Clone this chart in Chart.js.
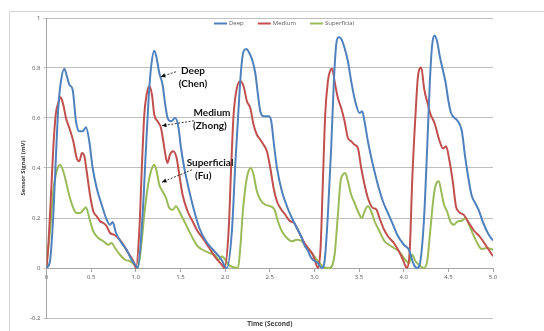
<!DOCTYPE html>
<html>
<head>
<meta charset="utf-8">
<script src="https://cdn.jsdelivr.net/npm/chart.js@4.4.0/dist/chart.umd.min.js"></script>
<style>
  html, body { margin: 0; padding: 0; background: #fff; }
  #wrap { width: 544px; height: 331px; }
</style>
</head>
<body>
<div id="wrap"><canvas id="chart" width="544" height="331"></canvas></div>
<script>
// values (time in seconds, signal in mV)
const deepT = [0, 0.039, 0.076, 0.106, 0.132, 0.159, 0.2, 0.226, 0.256, 0.293, 0.33, 0.368, 0.405, 0.442, 0.479, 0.517, 0.562, 0.618, 0.674, 0.711, 0.741, 0.778, 0.841, 0.897, 0.953, 1.0, 1.02,
  1.076, 1.114, 1.144, 1.17, 1.207, 1.233, 1.263, 1.3, 1.33, 1.356, 1.394, 1.442, 1.479, 1.506, 1.543, 1.599, 1.655, 1.711, 1.786, 1.86, 1.965, 2.0, 2.02,
  2.076, 2.114, 2.151, 2.181, 2.207, 2.237, 2.271, 2.308, 2.338, 2.368, 2.394, 2.431, 2.487, 2.517, 2.543, 2.581, 2.636, 2.692, 2.748, 2.804, 2.86, 2.89, 2.927, 2.964, 3.039, 3.084,
  3.114, 3.151, 3.188, 3.218, 3.244, 3.27, 3.3, 3.338, 3.375, 3.412, 3.457, 3.506, 3.535, 3.561, 3.599, 3.655, 3.711, 3.767, 3.823, 3.89, 3.927, 4.002, 4.058, 4.114, 4.151,
  4.188, 4.226, 4.263, 4.293, 4.319, 4.345, 4.375, 4.405, 4.44, 4.47, 4.5, 4.53, 4.6, 4.65, 4.686, 4.724, 4.761, 4.8, 4.836, 4.891, 4.95, 5.0];
const deepV = [0, 0.027, 0.21, 0.45, 0.64, 0.74, 0.797, 0.77, 0.733, 0.713, 0.587, 0.547, 0.547, 0.563, 0.507, 0.4, 0.32, 0.253, 0.193, 0.173, 0.184, 0.14, 0.1, 0.073, 0.033, 0.01, 0,
  0.213, 0.48, 0.68, 0.8, 0.869, 0.84, 0.78, 0.733, 0.653, 0.6, 0.587, 0.6, 0.56, 0.48, 0.4, 0.307, 0.227, 0.16, 0.107, 0.075, 0.03, 0.005, 0,
  0.147, 0.413, 0.64, 0.8, 0.867, 0.876, 0.86, 0.827, 0.78, 0.693, 0.627, 0.607, 0.607, 0.587, 0.507, 0.4, 0.307, 0.247, 0.2, 0.16, 0.12, 0.09, 0.07, 0.04, 0.02, 0,
  0.027, 0.213, 0.48, 0.747, 0.893, 0.923, 0.917, 0.88, 0.827, 0.747, 0.667, 0.62, 0.627, 0.587, 0.507, 0.413, 0.333, 0.267, 0.22, 0.165, 0.133, 0.093, 0.073, 0.013, 0,
  0.03, 0.187, 0.48, 0.747, 0.893, 0.93, 0.905, 0.845, 0.79, 0.74, 0.67, 0.62, 0.59, 0.55, 0.45, 0.36, 0.29, 0.26, 0.235, 0.18, 0.135, 0.11];

const mediumT = [0, 0.021, 0.047, 0.076, 0.103, 0.132, 0.159, 0.188, 0.218, 0.256, 0.3, 0.338, 0.368, 0.397, 0.424, 0.45, 0.487, 0.524, 0.562, 0.599, 0.636, 0.674, 0.711, 0.756, 0.804, 0.86, 0.916, 0.972, 1.002,
  1.039, 1.069, 1.095, 1.121, 1.151, 1.181, 1.207, 1.244, 1.282, 1.308, 1.338, 1.356, 1.382, 1.42, 1.457, 1.487, 1.524, 1.58, 1.636, 1.692, 1.748, 1.823, 1.897, 1.964, 1.994,
  2.039, 2.069, 2.095, 2.132, 2.17, 2.207, 2.244, 2.282, 2.319, 2.356, 2.394, 2.431, 2.468, 2.506, 2.543, 2.58, 2.618, 2.674, 2.729, 2.767, 2.804, 2.841, 2.897, 2.94, 2.983, 3.021, 3.039,
  3.069, 3.095, 3.121, 3.151, 3.177, 3.2, 3.226, 3.263, 3.3, 3.338, 3.375, 3.412, 3.45, 3.487, 3.524, 3.562, 3.599, 3.655, 3.692, 3.729, 3.778, 3.823, 3.89, 3.946, 3.983, 4.021, 4.039,
  4.069, 4.095, 4.132, 4.162, 4.196, 4.23, 4.27, 4.3, 4.345, 4.4, 4.442, 4.475, 4.512, 4.55, 4.59, 4.67, 4.73, 4.786, 4.855, 4.93, 5.0];
const mediumV = [0, 0.093, 0.267, 0.48, 0.613, 0.66, 0.683, 0.653, 0.6, 0.56, 0.507, 0.44, 0.427, 0.46, 0.447, 0.387, 0.293, 0.227, 0.207, 0.187, 0.18, 0.167, 0.14, 0.133, 0.12, 0.093, 0.06, 0.027, 0,
  0.147, 0.413, 0.613, 0.693, 0.727, 0.693, 0.613, 0.587, 0.56, 0.507, 0.44, 0.42, 0.453, 0.467, 0.44, 0.373, 0.293, 0.227, 0.187, 0.147, 0.12, 0.08, 0.04, 0.013, 0,
  0.147, 0.413, 0.613, 0.72, 0.747, 0.727, 0.667, 0.64, 0.573, 0.533, 0.513, 0.493, 0.467, 0.4, 0.32, 0.267, 0.24, 0.213, 0.187, 0.183, 0.16, 0.133, 0.095, 0.075, 0.053, 0.013, 0,
  0.08, 0.347, 0.613, 0.747, 0.79, 0.797, 0.747, 0.68, 0.64, 0.587, 0.52, 0.507, 0.493, 0.48, 0.4, 0.333, 0.28, 0.24, 0.235, 0.2, 0.155, 0.127, 0.1, 0.067, 0.04, 0.007, 0,
  0.08, 0.347, 0.613, 0.773, 0.802, 0.715, 0.655, 0.615, 0.58, 0.51, 0.478, 0.487, 0.43, 0.345, 0.24, 0.213, 0.18, 0.15, 0.124, 0.085, 0.047];

const superT = [0, 0.039, 0.076, 0.114, 0.151, 0.188, 0.226, 0.263, 0.3, 0.338, 0.375, 0.412, 0.442, 0.479, 0.524, 0.58, 0.636, 0.692, 0.73, 0.767, 0.823, 0.879, 0.935, 0.98, 1.02,
  1.058, 1.095, 1.132, 1.17, 1.207, 1.233, 1.263, 1.3, 1.338, 1.375, 1.412, 1.45, 1.487, 1.524, 1.58, 1.636, 1.692, 1.748, 1.823, 1.89, 1.927, 1.964, 2.002, 2.039, 2.095, 2.144,
  2.17, 2.196, 2.226, 2.256, 2.289, 2.319, 2.356, 2.394, 2.45, 2.506, 2.554, 2.591, 2.636, 2.692, 2.748, 2.804, 2.86, 2.927, 2.983, 3.039, 3.076, 3.114, 3.17,
  3.226, 3.263, 3.293, 3.319, 3.345, 3.375, 3.412, 3.45, 3.487, 3.532, 3.562, 3.599, 3.636, 3.674, 3.729, 3.785, 3.834, 3.89, 3.946, 4.002, 4.058, 4.095, 4.132, 4.188, 4.226,
  4.263, 4.3, 4.338, 4.367, 4.394, 4.42, 4.45, 4.487, 4.524, 4.562, 4.599, 4.655, 4.692, 4.73, 4.767, 4.817, 4.873, 4.929, 5.0];
const superV = [0.01, 0.147, 0.307, 0.387, 0.413, 0.387, 0.333, 0.28, 0.24, 0.22, 0.22, 0.233, 0.243, 0.2, 0.147, 0.12, 0.107, 0.093, 0.1, 0.08, 0.053, 0.033, 0.027, 0.015, 0,
  0.08, 0.213, 0.32, 0.387, 0.413, 0.387, 0.333, 0.307, 0.28, 0.24, 0.233, 0.247, 0.227, 0.2, 0.16, 0.12, 0.087, 0.073, 0.06, 0.05, 0.033, 0.047, 0.033, 0.013, 0.003, 0,
  0.08, 0.213, 0.32, 0.38, 0.4, 0.373, 0.307, 0.273, 0.253, 0.247, 0.233, 0.187, 0.147, 0.12, 0.107, 0.113, 0.107, 0.08, 0.053, 0.027, 0.013, 0.002, 0,
  0.053, 0.213, 0.347, 0.373, 0.38, 0.347, 0.293, 0.26, 0.227, 0.2, 0.227, 0.247, 0.227, 0.187, 0.147, 0.107, 0.093, 0.08, 0.067, 0.04, 0.02, 0.053, 0.027, 0.007, 0,
  0.027, 0.16, 0.293, 0.34, 0.347, 0.307, 0.255, 0.225, 0.185, 0.173, 0.185, 0.19, 0.2, 0.175, 0.143, 0.105, 0.076, 0.08, 0.073];

const seriesNames = ['Deep', 'Medium', 'Superficial'];
const seriesColors = ['#4F81BD', '#C0504D', '#9BBB59'];
const yTicks = [-0.2, 0, 0.2, 0.4, 0.6, 0.8, 1];

// callouts, placed in data units (time, mV)
const notes = [
  { lines: [['Deep', 1.64, 0.79], ['(Chen)', 1.64, 0.737]], from: [1.45, 0.785], to: [1.28, 0.765] },
  { lines: [['Medium', 1.853, 0.622], ['(Zhong)', 1.83, 0.567]], from: [1.652, 0.589], to: [1.293, 0.569] },
  { lines: [['Superficial', 1.831, 0.422], ['(Fu)', 1.755, 0.367]], from: [1.629, 0.393], to: [1.293, 0.343] }
];

function pts(ts, vs) {
  return ts.map((t, i) => ({ x: t, y: vs[i] }));
}

const extras = {
  id: 'extras',
  beforeDraw(chart) {
    const c = chart.ctx;
    c.save();
    c.fillStyle = '#fff';
    c.fillRect(0, 0, chart.width, chart.height);
    c.strokeStyle = '#d4d4d4';
    c.lineWidth = 1;
    c.beginPath();
    c.moveTo(9.5, chart.height);
    c.lineTo(9.5, 11.5);
    c.lineTo(chart.width, 11.5);
    c.stroke();
    c.restore();
  },
  afterDraw(chart) {
    const c = chart.ctx;
    const xs = chart.scales.x, ys = chart.scales.y;
    const area = chart.chartArea;
    c.save();

    // legend inside the plot
    c.font = '6px "Open Sans", sans-serif';
    c.textBaseline = 'middle';
    c.textAlign = 'left';
    let lx = 214;
    const ly = 23.5;
    seriesNames.forEach((name, i) => {
      c.strokeStyle = seriesColors[i];
      c.lineWidth = 2;
      c.beginPath();
      c.moveTo(lx, ly);
      c.lineTo(lx + 13, ly);
      c.stroke();
      c.fillStyle = '#595959';
      c.fillText(name, lx + 15, ly);
      lx += 15 + c.measureText(name).width + 14;
    });

    // x axis title
    c.font = 'bold 6.5px "Open Sans", sans-serif';
    c.fillStyle = '#404040';
    c.textAlign = 'center';
    c.fillText('Time (Second)', (area.left + area.right) / 2, 324.5);

    // callouts
    notes.forEach(n => {
      c.font = 'bold 10px Lato, sans-serif';
      c.fillStyle = '#111';
      c.textAlign = 'center';
      n.lines.forEach(([txt, t, v]) => {
        c.fillText(txt, xs.getPixelForValue(t), ys.getPixelForValue(v));
      });
      const x1 = xs.getPixelForValue(n.from[0]), y1 = ys.getPixelForValue(n.from[1]);
      const x2 = xs.getPixelForValue(n.to[0]), y2 = ys.getPixelForValue(n.to[1]);
      c.strokeStyle = '#222';
      c.lineWidth = 0.9;
      c.setLineDash([2, 1.5]);
      c.beginPath();
      c.moveTo(x1, y1);
      c.lineTo(x2, y2);
      c.stroke();
      c.setLineDash([]);
      const a = Math.atan2(y2 - y1, x2 - x1);
      c.fillStyle = '#111';
      c.beginPath();
      c.moveTo(x2, y2);
      c.lineTo(x2 - 5 * Math.cos(a - 0.45), y2 - 5 * Math.sin(a - 0.45));
      c.lineTo(x2 - 5 * Math.cos(a + 0.45), y2 - 5 * Math.sin(a + 0.45));
      c.closePath();
      c.fill();
    });
    c.restore();
  }
};

const datasets = [pts(deepT, deepV), pts(mediumT, mediumV), pts(superT, superV)].map((d, i) => ({
  label: seriesNames[i],
  data: d,
  borderColor: seriesColors[i],
  backgroundColor: seriesColors[i],
  borderWidth: 2,
  pointRadius: 0,
  cubicInterpolationMode: 'monotone',
  fill: false
}));

new Chart(document.getElementById('chart').getContext('2d'), {
  type: 'line',
  data: { datasets: datasets },
  options: {
    responsive: false,
    animation: false,
    devicePixelRatio: 1,
    layout: { padding: { left: 0.5, top: 18, right: 51, bottom: 13 } },
    plugins: {
      legend: { display: false },
      tooltip: { enabled: false }
    },
    scales: {
      x: {
        type: 'linear',
        min: 0,
        max: 5,
        position: { y: 0 },
        afterFit(scale) { scale.height = 0; },
        ticks: {
          stepSize: 0.5,
          padding: 3,
          color: '#595959',
          font: { size: 6, family: '"Open Sans", sans-serif' },
          maxRotation: 0
        },
        grid: { drawOnChartArea: false, drawTicks: true, tickLength: 3, color: '#a6a6a6' },
        border: { display: true, color: '#a6a6a6' }
      },
      y: {
        min: -0.2,
        max: 1,
        afterFit(scale) { scale.width = 46; },
        afterBuildTicks(scale) { scale.ticks = yTicks.map(v => ({ value: v })); },
        ticks: {
          padding: 3,
          color: '#595959',
          font: { size: 6, family: '"Open Sans", sans-serif' },
          callback: v => String(Math.round(v * 10) / 10)
        },
        grid: { color: '#bfbfbf', lineWidth: 1, drawTicks: true, tickLength: 3 },
        border: { display: true, color: '#a6a6a6' },
        title: {
          display: true,
          text: 'Sensor Signal (mV)',
          color: '#404040',
          font: { size: 6, weight: 'bold', family: '"Open Sans", sans-serif' },
          padding: { top: 19, bottom: 0 }
        }
      }
    }
  },
  plugins: [extras]
});
</script>
</body>
</html>
